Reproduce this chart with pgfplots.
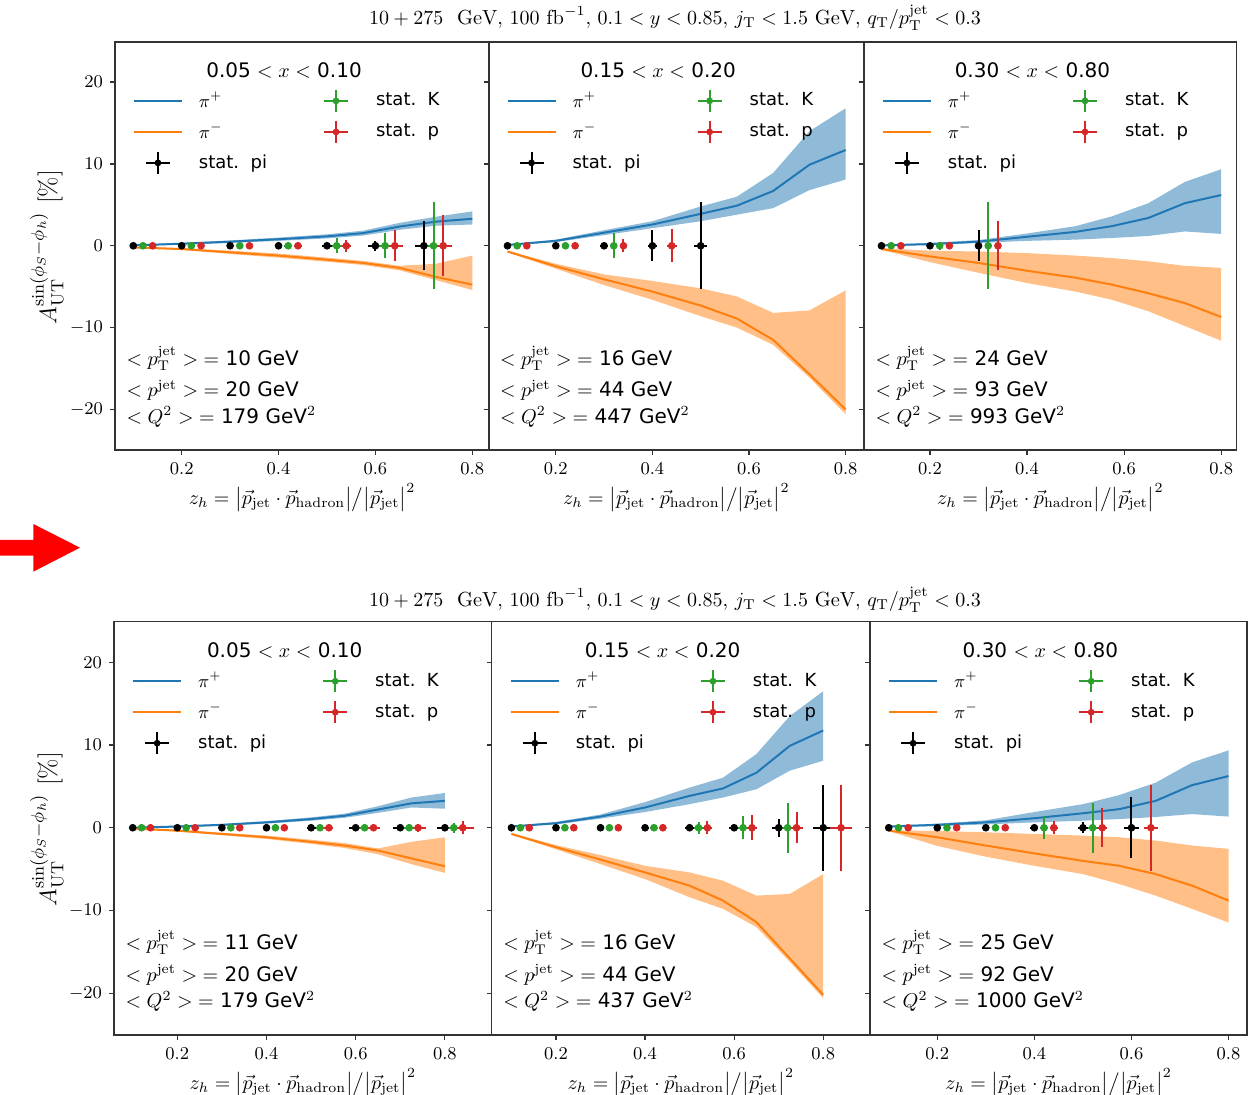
\documentclass[border=0pt]{standalone}
\usepackage{fontspec}
\usepackage{pgfplots}
\pgfplotsset{compat=1.18}
\newfontfamily\dv{DejaVu Sans}
\definecolor{tabblue}{HTML}{1F77B4}
\definecolor{taborange}{HTML}{FF7F0E}
\definecolor{tabgreen}{HTML}{2CA02C}
\definecolor{tabred}{HTML}{D62728}

\newcommand{\errimg}[1]{\addlegendimage{legend image code/.code={%
  \path[draw=none,fill=none] (0pt,-5.5pt) rectangle (24pt,5.5pt);
  \draw[#1,line width=1pt] (6pt,0pt) -- (18pt,0pt) (12pt,-5.5pt) -- (12pt,5.5pt);
  \fill[#1,draw=none] (12pt,0pt) circle (1.7pt);}}}
\newcommand{\lineimg}[1]{\addlegendimage{legend image code/.code={%
  \path[draw=none,fill=none] (0pt,-5.5pt) rectangle (24pt,5.5pt);
  \draw[#1,line width=1pt] (0pt,0pt) -- (24pt,0pt);}}}
\newcommand{\Legend}{%
  \lineimg{tabblue}\addlegendentry{$\pi^+$}
  \errimg{tabgreen}\addlegendentry{stat.\ \ K}
  \lineimg{taborange}\addlegendentry{$\pi^-$}
  \errimg{tabred}\addlegendentry{stat.\ \ p}
  \errimg{black}\addlegendentry{stat.\ \ pi}
}
\newcommand{\Info}[4]{%
  \node[anchor=base, font=\dv\fontsize{10}{12}\selectfont] at (axis description cs:0.452,0.913) {#1};
  \node[anchor=base west, font=\dv\fontsize{10}{12}\selectfont] at (axis description cs:0.012,0.208) {$<p_{\mathrm{T}}^{\mathrm{jet}}>\;=$ #2 GeV};
  \node[anchor=base west, font=\dv\fontsize{10}{12}\selectfont] at (axis description cs:0.012,0.130) {$<p^{\mathrm{jet}}>\;=$ #3 GeV};
  \node[anchor=base west, font=\dv\fontsize{10}{12}\selectfont] at (axis description cs:0.012,0.066) {$<Q^2>\;=$ #4 GeV$^2$};
}

\pgfplotsset{
  panel/.style={scale only axis,
    axis line style={line width=0.6pt, black!80},
    tick align=outside, xtick pos=bottom, ytick pos=left,
    major tick length=2.5pt, tick style={line width=0.6pt, black!80},
    xtick={0.2,0.4,0.6,0.8}, ytick={-20,-10,0,10,20},
    xticklabels={0.2,0.4,0.6,0.8},
    ticklabel style={font=\fontsize{9}{10}\selectfont},
    xlabel={$z_h=\big|\vec{p}_{\mathrm{jet}}\cdot\vec{p}_{\mathrm{hadron}}\big|\big/\big|\vec{p}_{\mathrm{jet}}\big|^2$},
    xlabel style={font=\fontsize{10}{12}\selectfont, at={(axis description cs:0.5,0)}, anchor=base, yshift=-27.5pt},
    legend style={at={(axis description cs:0.048,0.885)}, anchor=north west,
      draw=none, fill=none, inner sep=0pt, outer sep=0pt,
      font=\dv\fontsize{9}{10}\selectfont, legend columns=2,
      column sep=8pt, row sep=3.5pt, nodes={inner sep=0pt},
      /tikz/every even column/.append style={column sep=22.5pt}},
    legend cell align=left,
  },
  pt/.style={only marks, mark=*, mark size=1.7pt, forget plot,
    error bars/.cd, x dir=both, x explicit, y dir=both, y explicit,
    error bar style={line width=1pt}, error mark=none},
  bandB/.style={fill=tabblue, fill opacity=0.5, draw=none, forget plot},
  bandO/.style={fill=taborange, fill opacity=0.5, draw=none, forget plot},
  lineB/.style={tabblue, line width=1pt, forget plot},
  lineO/.style={taborange, line width=1pt, forget plot},
  toprow/.style={panel, width=#1, height=204pt, ymin=-24.95, ymax=24.9},
  botrow/.style={panel, width=#1, height=206.65pt, ymin=-25.04, ymax=24.9},
}

\begin{document}
\begin{tikzpicture}
\useasboundingbox (0,0) rectangle (625pt,547.5pt);

% ---------- top row ----------
\begin{axis}[toprow=187pt, at={(57.5pt,322.5pt)}, anchor=south west, xmin=0.0623, xmax=0.8345]
\addplot[bandB] coordinates {(0.1,0.1)(0.2,0.35)(0.3,0.65)(0.4,1.0)(0.5,1.4)(0.575,1.85)(0.65,2.8)(0.725,3.55)(0.8,4.2)(0.8,2.6)(0.725,2.45)(0.65,1.95)(0.575,1.25)(0.5,0.9)(0.4,0.6)(0.3,0.35)(0.2,0.15)(0.1,0.0)};
\addplot[bandO] coordinates {(0.1,-0.1)(0.2,-0.3)(0.3,-0.6)(0.4,-0.95)(0.5,-1.45)(0.575,-1.85)(0.65,-2.45)(0.725,-2.2)(0.8,-1.2)(0.8,-5.4)(0.725,-4.2)(0.65,-3.0)(0.575,-2.35)(0.5,-1.95)(0.4,-1.45)(0.3,-1.0)(0.2,-0.5)(0.1,-0.3)};
\addplot[lineB] coordinates {(0.1,0.05)(0.2,0.25)(0.3,0.5)(0.4,0.8)(0.5,1.15)(0.575,1.55)(0.65,2.35)(0.725,2.95)(0.8,3.3)};
\addplot[lineO] coordinates {(0.1,-0.2)(0.2,-0.4)(0.3,-0.8)(0.4,-1.2)(0.5,-1.7)(0.575,-2.1)(0.65,-2.7)(0.725,-3.8)(0.8,-4.75)};
\addplot[black, pt] coordinates {(0.1,0) +- (0.004,0.05) (0.2,0) +- (0.005,0.08) (0.3,0) +- (0.006,0.1) (0.4,0) +- (0.008,0.15) (0.5,0) +- (0.01,0.25) (0.6,0) +- (0.016,0.6) (0.7,0) +- (0.019,3.0)};
\addplot[tabgreen, pt] coordinates {(0.12,0) +- (0.004,0.1) (0.22,0) +- (0.005,0.15) (0.32,0) +- (0.006,0.2) (0.42,0) +- (0.008,0.3) (0.52,0) +- (0.01,0.9) (0.62,0) +- (0.016,1.55) (0.72,0) +- (0.019,5.3)};
\addplot[tabred, pt] coordinates {(0.14,0) +- (0.004,0.1) (0.24,0) +- (0.005,0.15) (0.34,0) +- (0.006,0.2) (0.44,0) +- (0.008,0.3) (0.54,0) +- (0.01,0.7) (0.64,0) +- (0.016,1.9) (0.74,0) +- (0.019,3.7)};
\Legend
\Info{0.05 $<x<$ 0.10}{10}{20}{179}
\end{axis}

\begin{axis}[toprow=187.75pt, at={(244.25pt,322.5pt)}, anchor=south west, xmin=0.0607, xmax=0.838, yticklabels={}]
\addplot[bandB] coordinates {(0.1,0.15)(0.2,0.75)(0.3,1.9)(0.4,3.0)(0.5,4.8)(0.575,6.0)(0.65,8.9)(0.725,14.0)(0.8,16.8)(0.8,8.1)(0.725,6.8)(0.65,4.6)(0.575,3.8)(0.5,3.0)(0.4,2.15)(0.3,1.3)(0.2,0.45)(0.1,0.05)};
\addplot[bandO] coordinates {(0.1,-0.6)(0.2,-2.2)(0.3,-3.5)(0.4,-4.3)(0.5,-5.2)(0.575,-6.2)(0.65,-8.2)(0.725,-7.9)(0.8,-5.45)(0.8,-20.6)(0.725,-16.1)(0.65,-12.1)(0.575,-10.0)(0.5,-8.6)(0.4,-6.6)(0.3,-4.8)(0.2,-2.8)(0.1,-0.8)};
\addplot[lineB] coordinates {(0.1,0.1)(0.2,0.6)(0.3,1.6)(0.4,2.6)(0.5,3.9)(0.575,4.9)(0.65,6.7)(0.725,9.9)(0.8,11.7)};
\addplot[lineO] coordinates {(0.1,-0.7)(0.2,-2.5)(0.3,-4.1)(0.4,-5.6)(0.5,-7.3)(0.575,-8.9)(0.65,-11.5)(0.725,-15.7)(0.8,-20.0)};
\addplot[black, pt] coordinates {(0.1,0) +- (0.004,0.05) (0.2,0) +- (0.005,0.08) (0.3,0) +- (0.008,0.3) (0.4,0) +- (0.01,1.9) (0.5,0) +- (0.014,5.3)};
\addplot[tabgreen, pt] coordinates {(0.12,0) +- (0.004,0.1) (0.22,0) +- (0.005,0.15) (0.32,0) +- (0.006,1.5)};
\addplot[tabred, pt] coordinates {(0.14,0) +- (0.004,0.1) (0.24,0) +- (0.005,0.15) (0.34,0) +- (0.006,0.8) (0.44,0) +- (0.01,2.0)};
\Legend
\Info{0.15 $<x<$ 0.20}{16}{44}{447}
\end{axis}

\begin{axis}[toprow=186.35pt, at={(432pt,322.5pt)}, anchor=south west, xmin=0.064, xmax=0.832, yticklabels={}]
\addplot[bandB] coordinates {(0.1,0.1)(0.2,0.35)(0.3,0.7)(0.4,1.5)(0.5,2.4)(0.575,3.6)(0.65,5.2)(0.725,7.8)(0.8,9.35)(0.8,1.45)(0.725,1.75)(0.65,1.2)(0.575,0.95)(0.5,0.75)(0.4,0.6)(0.3,0.35)(0.2,0.1)(0.1,0.0)};
\addplot[bandO] coordinates {(0.1,-0.3)(0.2,-0.6)(0.3,-0.7)(0.4,-0.9)(0.5,-1.2)(0.575,-1.5)(0.65,-1.9)(0.725,-2.45)(0.8,-2.7)(0.8,-11.6)(0.725,-9.8)(0.65,-8.0)(0.575,-6.6)(0.5,-5.6)(0.4,-4.55)(0.3,-3.3)(0.2,-2.0)(0.1,-0.5)};
\addplot[lineB] coordinates {(0.1,0.05)(0.2,0.2)(0.3,0.5)(0.4,1.1)(0.5,1.7)(0.575,2.4)(0.65,3.4)(0.725,5.2)(0.8,6.2)};
\addplot[lineO] coordinates {(0.1,-0.4)(0.2,-1.3)(0.3,-2.1)(0.4,-3.05)(0.5,-3.9)(0.575,-4.75)(0.65,-5.8)(0.725,-7.0)(0.8,-8.7)};
\addplot[black, pt] coordinates {(0.1,0) +- (0.004,0.05) (0.2,0) +- (0.005,0.08) (0.3,0) +- (0.008,1.9)};
\addplot[tabgreen, pt] coordinates {(0.12,0) +- (0.004,0.1) (0.22,0) +- (0.005,0.5) (0.32,0) +- (0.006,5.3)};
\addplot[tabred, pt] coordinates {(0.14,0) +- (0.004,0.1) (0.24,0) +- (0.005,0.2) (0.34,0) +- (0.006,3.0)};
\Legend
\Info{0.30 $<x<$ 0.80}{24}{93}{993}
\end{axis}

% ---------- bottom row ----------
\begin{axis}[botrow=188.85pt, at={(57pt,30pt)}, anchor=south west, xmin=0.058, xmax=0.905]
\addplot[bandB] coordinates {(0.1,0.05)(0.2,0.25)(0.3,0.45)(0.4,0.8)(0.5,1.25)(0.575,1.7)(0.65,2.6)(0.725,3.65)(0.8,4.2)(0.8,2.3)(0.725,2.45)(0.65,1.8)(0.575,1.2)(0.5,0.85)(0.4,0.5)(0.3,0.25)(0.2,0.05)(0.1,-0.05)};
\addplot[bandO] coordinates {(0.1,-0.05)(0.2,-0.25)(0.3,-0.6)(0.4,-0.95)(0.5,-1.45)(0.575,-1.85)(0.65,-2.5)(0.725,-1.7)(0.8,-1.15)(0.8,-5.45)(0.725,-4.4)(0.65,-3.2)(0.575,-2.45)(0.5,-1.95)(0.4,-1.35)(0.3,-0.9)(0.2,-0.45)(0.1,-0.15)};
\addplot[lineB] coordinates {(0.1,0.0)(0.2,0.15)(0.3,0.35)(0.4,0.65)(0.5,1.05)(0.575,1.45)(0.65,2.2)(0.725,2.95)(0.8,3.25)};
\addplot[lineO] coordinates {(0.1,-0.1)(0.2,-0.35)(0.3,-0.75)(0.4,-1.15)(0.5,-1.7)(0.575,-2.15)(0.65,-2.75)(0.725,-3.7)(0.8,-4.65)};
\addplot[black, pt] coordinates {(0.1,0) +- (0.003,0.05) (0.2,0) +- (0.005,0.05) (0.3,0) +- (0.006,0.08) (0.4,0) +- (0.008,0.1) (0.5,0) +- (0.01,0.15) (0.6,0) +- (0.014,0.2) (0.7,0) +- (0.016,0.25) (0.8,0) +- (0.018,0.35)};
\addplot[tabgreen, pt] coordinates {(0.12,0) +- (0.003,0.05) (0.22,0) +- (0.005,0.08) (0.32,0) +- (0.006,0.1) (0.42,0) +- (0.008,0.15) (0.52,0) +- (0.01,0.2) (0.62,0) +- (0.014,0.3) (0.72,0) +- (0.016,0.4) (0.82,0) +- (0.02,0.6)};
\addplot[tabred, pt] coordinates {(0.14,0) +- (0.003,0.05) (0.24,0) +- (0.005,0.08) (0.34,0) +- (0.006,0.1) (0.44,0) +- (0.008,0.15) (0.54,0) +- (0.01,0.2) (0.64,0) +- (0.014,0.3) (0.74,0) +- (0.018,0.5) (0.84,0) +- (0.025,0.8)};
\Legend
\Info{0.05 $<x<$ 0.10}{11}{20}{179}
\end{axis}

\begin{axis}[botrow=189.15pt, at={(245.85pt,30pt)}, anchor=south west, xmin=0.0557, xmax=0.905, yticklabels={}]
\addplot[bandB] coordinates {(0.1,0.2)(0.2,0.7)(0.3,1.6)(0.4,3.1)(0.5,4.85)(0.575,6.05)(0.65,8.9)(0.725,13.5)(0.8,16.5)(0.8,8.1)(0.725,6.9)(0.65,4.65)(0.575,3.65)(0.5,2.85)(0.4,1.9)(0.3,1.1)(0.2,0.4)(0.1,0.1)};
\addplot[bandO] coordinates {(0.1,-0.65)(0.2,-2.1)(0.3,-3.3)(0.4,-4.6)(0.5,-5.4)(0.575,-6.4)(0.65,-8.2)(0.725,-8.0)(0.8,-5.6)(0.8,-20.6)(0.725,-16.2)(0.65,-12.0)(0.575,-9.8)(0.5,-8.4)(0.4,-6.2)(0.3,-4.4)(0.2,-2.6)(0.1,-0.85)};
\addplot[lineB] coordinates {(0.1,0.15)(0.2,0.55)(0.3,1.35)(0.4,2.45)(0.5,3.85)(0.575,4.75)(0.65,6.65)(0.725,9.9)(0.8,11.75)};
\addplot[lineO] coordinates {(0.1,-0.75)(0.2,-2.35)(0.3,-3.85)(0.4,-5.4)(0.5,-7.0)(0.575,-8.8)(0.65,-11.4)(0.725,-15.8)(0.8,-20.2)};
\addplot[black, pt] coordinates {(0.1,0) +- (0.003,0.05) (0.2,0) +- (0.005,0.05) (0.3,0) +- (0.006,0.08) (0.4,0) +- (0.008,0.1) (0.5,0) +- (0.01,0.2) (0.6,0) +- (0.012,0.4) (0.7,0) +- (0.015,1.1) (0.8,0) +- (0.024,5.2)};
\addplot[tabgreen, pt] coordinates {(0.12,0) +- (0.003,0.05) (0.22,0) +- (0.005,0.08) (0.32,0) +- (0.006,0.1) (0.42,0) +- (0.008,0.2) (0.52,0) +- (0.01,0.7) (0.62,0) +- (0.012,1.4) (0.72,0) +- (0.015,3.0)};
\addplot[tabred, pt] coordinates {(0.14,0) +- (0.003,0.05) (0.24,0) +- (0.005,0.08) (0.34,0) +- (0.006,0.1) (0.44,0) +- (0.008,0.3) (0.54,0) +- (0.01,0.8) (0.64,0) +- (0.012,1.5) (0.74,0) +- (0.015,1.9) (0.84,0) +- (0.025,5.2)};
\Legend
\Info{0.15 $<x<$ 0.20}{16}{44}{437}
\end{axis}

\begin{axis}[botrow=188.5pt, at={(435pt,30pt)}, anchor=south west, xmin=0.0614, xmax=0.838, yticklabels={}]
\addplot[bandB] coordinates {(0.1,0.2)(0.2,0.5)(0.3,0.9)(0.4,1.9)(0.5,2.85)(0.575,3.95)(0.65,5.45)(0.725,7.9)(0.8,9.35)(0.8,1.35)(0.725,1.65)(0.65,1.3)(0.575,1.05)(0.5,0.85)(0.4,0.65)(0.3,0.4)(0.2,0.2)(0.1,0.1)};
\addplot[bandO] coordinates {(0.1,-0.3)(0.2,-0.4)(0.3,-0.55)(0.4,-0.75)(0.5,-0.95)(0.575,-1.15)(0.65,-1.55)(0.725,-2.15)(0.8,-2.55)(0.8,-11.45)(0.725,-9.8)(0.65,-8.2)(0.575,-6.8)(0.5,-5.6)(0.4,-4.6)(0.3,-3.5)(0.2,-2.2)(0.1,-0.4)};
\addplot[lineB] coordinates {(0.1,0.15)(0.2,0.35)(0.3,0.65)(0.4,1.15)(0.5,1.75)(0.575,2.25)(0.65,3.25)(0.725,5.15)(0.8,6.25)};
\addplot[lineO] coordinates {(0.1,-0.35)(0.2,-1.15)(0.3,-2.15)(0.4,-3.1)(0.5,-4.0)(0.575,-4.6)(0.65,-5.6)(0.725,-7.0)(0.8,-8.8)};
\addplot[black, pt] coordinates {(0.1,0) +- (0.003,0.05) (0.2,0) +- (0.005,0.08) (0.3,0) +- (0.006,0.1) (0.4,0) +- (0.008,0.3) (0.5,0) +- (0.01,0.65) (0.6,0) +- (0.015,3.7)};
\addplot[tabgreen, pt] coordinates {(0.12,0) +- (0.003,0.05) (0.22,0) +- (0.005,0.1) (0.32,0) +- (0.006,0.15) (0.42,0) +- (0.008,1.4) (0.52,0) +- (0.01,3.0)};
\addplot[tabred, pt] coordinates {(0.14,0) +- (0.003,0.05) (0.24,0) +- (0.005,0.1) (0.34,0) +- (0.006,0.15) (0.44,0) +- (0.008,0.8) (0.54,0) +- (0.01,2.35) (0.64,0) +- (0.015,5.2)};
\Legend
\Info{0.30 $<x<$ 0.80}{25}{92}{1000}
\end{axis}

% titles and y labels
\node[font=\fontsize{10.2}{12}\selectfont] at (337.5pt,538.5pt) {$10+275\ \ \mathrm{GeV},\,100\ \mathrm{fb}^{-1},\,0.1<y<0.85,\,j_{\mathrm{T}}<1.5\ \mathrm{GeV},\,q_{\mathrm{T}}/p_{\mathrm{T}}^{\mathrm{jet}}<0.3$};
\node[font=\fontsize{10.2}{12}\selectfont] at (337.5pt,247.5pt) {$10+275\ \ \mathrm{GeV},\,100\ \mathrm{fb}^{-1},\,0.1<y<0.85,\,j_{\mathrm{T}}<1.5\ \mathrm{GeV},\,q_{\mathrm{T}}/p_{\mathrm{T}}^{\mathrm{jet}}<0.3$};
\node[rotate=90, font=\fontsize{12.5}{14}\selectfont] at (23.5pt,424pt) {$A_{\mathrm{UT}}^{\sin(\phi_S-\phi_h)}$ [\%]};
\node[rotate=90, font=\fontsize{12.5}{14}\selectfont] at (23.5pt,133pt) {$A_{\mathrm{UT}}^{\sin(\phi_S-\phi_h)}$ [\%]};

% red arrow
\fill[red] (0pt,277.5pt) -- (16.65pt,277.5pt) -- (16.65pt,285.5pt) -- (40pt,273.65pt) -- (16.65pt,261.65pt) -- (16.65pt,269.65pt) -- (0pt,269.65pt) -- cycle;
\end{tikzpicture}
\end{document}
